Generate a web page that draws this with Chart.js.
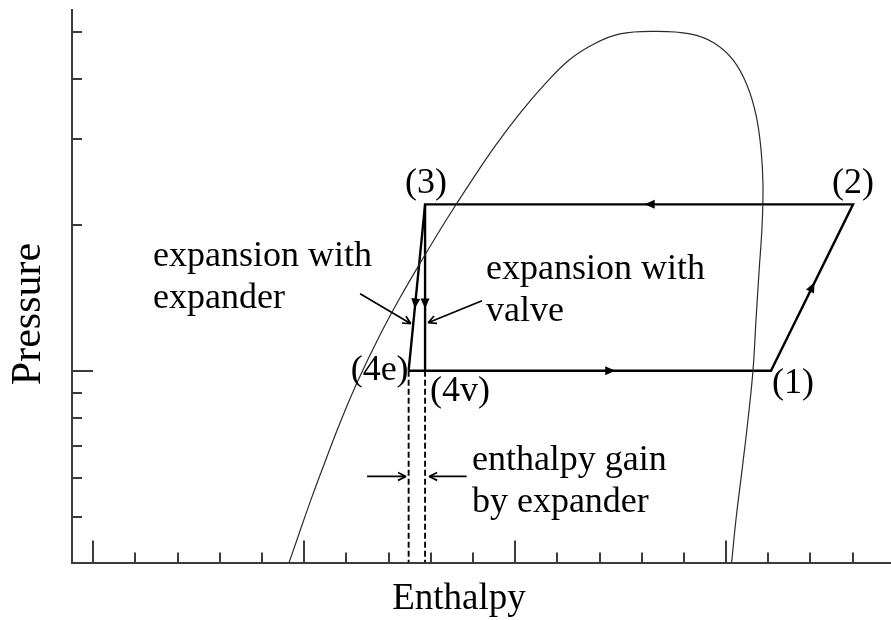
<!DOCTYPE html>
<html>
<head>
<meta charset="utf-8">
<script src="https://cdn.jsdelivr.net/npm/chart.js@4.4.1/dist/chart.umd.min.js"></script>
<style>
  html, body { margin: 0; padding: 0; background: #ffffff; }
  canvas { display: block; }
</style>
</head>
<body>
<canvas id="ph" width="891" height="620"></canvas>
<script>
// Saturation dome (enthalpy kJ/kg, pressure kPa), liquid side up to the top, then vapour side down
const domeH = [290.9, 297.1, 303.2, 309.9, 317.0, 325.5, 335.5, 345.4, 355.9, 367.7, 379.6, 390.9,
               402.8, 414.2, 425.6, 437.4, 449.7, 466.3,
               482.9, 494.3, 503.3, 509.9, 514.2, 516.6, 517.5, 517.1, 515.7, 514.2, 512.8, 510.4,
               507.6, 504.7, 502.1];
const domeP = [380, 455, 542, 649, 781, 954, 1175, 1414, 1694, 2058, 2476, 2924,
               3420, 3906, 4378, 4723, 4953, 5012,
               4953, 4746, 4378, 3888, 3372, 2856, 2418, 2000, 1615, 1274, 1005, 792,
               625, 493, 380];

// Cycle state points
const stateNames = ['(1)', '(2)', '(3)', '(4e)', '(4v)'];
const stateH = [521.3, 560.2, 357.3, 349.5, 357.3];
const stateP = [1000, 2204, 2204, 1000, 1000];

// Axis tick values
const hTicks = [200, 220, 240, 260, 280, 300, 320, 340, 360, 380, 400, 420, 440, 460, 480, 500, 520, 540, 560];
const hMajor = [200, 300, 400, 500];
const pTicks = [500, 600, 700, 800, 900, 1000, 2000, 3000, 4000, 5000];
const pMajor = [1000];

const H_MIN = 189.9, H_MAX = 578.2;
const P_MIN = 402, P_MAX = 5550;

const AXIS = '#3c3c3c';
const INK = '#000000';
const SERIF = '"Liberation Serif", "Times New Roman", serif';

const pt = i => ({ x: stateH[i], y: stateP[i] });
const cyclePath = [3, 0, 1, 2, 3].map(pt);      // 4e -> 1 -> 2 -> 3 -> 4e
const valvePath = [2, 4].map(pt);               // 3 -> 4v
const dropE = [pt(3), { x: stateH[3], y: P_MIN }];
const dropV = [pt(4), { x: stateH[4], y: P_MIN }];

const decor = {
  id: 'phDecor',
  afterDatasetsDraw(chart, args, opts) {
    const { ctx, chartArea: a, scales: { x, y } } = chart;
    const X = v => x.getPixelForValue(v);
    const Y = v => y.getPixelForValue(v);
    ctx.save();

    // tick marks pointing into the plot
    ctx.strokeStyle = AXIS;
    ctx.lineWidth = 2;
    ctx.beginPath();
    hTicks.forEach(v => {
      const px = Math.round(X(v));
      const len = hMajor.includes(v) ? 22 : 10;
      ctx.moveTo(px, a.bottom);
      ctx.lineTo(px, a.bottom - len);
    });
    pTicks.forEach(v => {
      const py = Math.round(Y(v));
      const len = pMajor.includes(v) ? 21 : 10;
      ctx.moveTo(a.left, py);
      ctx.lineTo(a.left + len, py);
    });
    ctx.stroke();

    // flow direction heads on the cycle
    ctx.fillStyle = INK;
    opts.flow.forEach(([i, j, t]) => {
      const x0 = X(stateH[i]), y0 = Y(stateP[i]);
      const x1 = X(stateH[j]), y1 = Y(stateP[j]);
      ctx.save();
      ctx.translate(x0 + (x1 - x0) * t, y0 + (y1 - y0) * t);
      ctx.rotate(Math.atan2(y1 - y0, x1 - x0));
      ctx.beginPath();
      ctx.moveTo(5.5, 0);
      ctx.lineTo(-4.5, -4.5);
      ctx.lineTo(-4.5, 4.5);
      ctx.closePath();
      ctx.fill();
      ctx.restore();
    });

    // callout arrows
    ctx.strokeStyle = INK;
    ctx.lineWidth = 1.7;
    opts.callouts.forEach(c => {
      const x0 = X(c.from[0]), y0 = Y(c.from[1]);
      const x1 = X(c.to[0]), y1 = Y(c.to[1]);
      const ang = Math.atan2(y1 - y0, x1 - x0);
      ctx.beginPath();
      ctx.moveTo(x0, y0);
      ctx.lineTo(x1, y1);
      [0.45, -0.45].forEach(d => {
        ctx.moveTo(x1, y1);
        ctx.lineTo(x1 - 9 * Math.cos(ang + d), y1 - 9 * Math.sin(ang + d));
      });
      ctx.stroke();
    });

    // state point labels
    ctx.fillStyle = INK;
    ctx.font = '36px ' + SERIF;
    ctx.textAlign = 'center';
    ctx.textBaseline = 'middle';
    stateNames.forEach((s, i) => {
      const [dx, dy] = opts.nameOffsets[i];
      ctx.fillText(s, X(stateH[i]) + dx, Y(stateP[i]) + dy);
    });

    // text notes
    ctx.textAlign = 'left';
    ctx.textBaseline = 'alphabetic';
    opts.notes.forEach(n => {
      const x0 = X(n.at[0]), y0 = Y(n.at[1]);
      n.lines.forEach((line, k) => ctx.fillText(line, x0, y0 + k * 42));
    });

    // axis titles
    ctx.font = '37px ' + SERIF;
    ctx.textAlign = 'center';
    ctx.fillText('Enthalpy', a.left + 387, a.bottom + 46.5);
    ctx.save();
    ctx.translate(40, a.top + 304);
    ctx.rotate(-Math.PI / 2);
    ctx.font = '42px ' + SERIF;
    ctx.fillText('Pressure', 0, 0);
    ctx.restore();

    ctx.restore();
  }
};

new Chart(document.getElementById('ph'), {
  type: 'scatter',
  data: {
    datasets: [
      { data: domeH.map((h, i) => ({ x: h, y: domeP[i] })), showLine: true, tension: 0.4,
        borderColor: '#2a2a2a', borderWidth: 1.2, pointRadius: 0 },
      { data: cyclePath, showLine: true, tension: 0, borderColor: INK, borderWidth: 2.4,
        borderJoinStyle: 'miter', pointRadius: 0 },
      { data: valvePath, showLine: true, tension: 0, borderColor: INK, borderWidth: 2.4, pointRadius: 0 },
      { data: dropE, showLine: true, borderColor: INK, borderWidth: 1.9, borderDash: [6, 3], pointRadius: 0 },
      { data: dropV, showLine: true, borderColor: INK, borderWidth: 1.9, borderDash: [6, 3], pointRadius: 0 }
    ]
  },
  options: {
    responsive: false,
    animation: false,
    events: [],
    layout: { padding: { left: 72, top: 10, right: 0, bottom: 57.5 } },
    plugins: {
      legend: { display: false },
      tooltip: { enabled: false },
      phDecor: {
        flow: [[1, 2, 0.474], [0, 1, 0.5], [3, 0, 0.555], [2, 3, 0.593], [2, 4, 0.593]],
        nameOffsets: [[22, 13], [0, -21], [1, -21], [-29, 0], [35, 21]],
        callouts: [
          { from: [326.5, 1441], to: [350.6, 1250] },
          { from: [384.3, 1394], to: [358.7, 1256] },
          { from: [329.8, 605], to: [348.3, 605] },
          { from: [377.0, 605], to: [359.2, 605] }
        ],
        notes: [
          { at: [228.3, 1646], lines: ['expansion with', 'expander'] },
          { at: [386.2, 1547], lines: ['expansion with', 'valve'] },
          { at: [379.5, 625], lines: ['enthalpy gain', 'by expander'] }
        ]
      }
    },
    scales: {
      x: {
        type: 'linear', min: H_MIN, max: H_MAX, bounds: 'data',
        ticks: { display: false },
        grid: { display: false, drawTicks: false },
        border: { display: true, color: AXIS, width: 2 }
      },
      y: {
        type: 'logarithmic', min: P_MIN, max: P_MAX, bounds: 'data',
        ticks: { display: false },
        grid: { display: false, drawTicks: false },
        border: { display: true, color: AXIS, width: 2 }
      }
    }
  },
  plugins: [decor]
});
</script>
</body>
</html>
